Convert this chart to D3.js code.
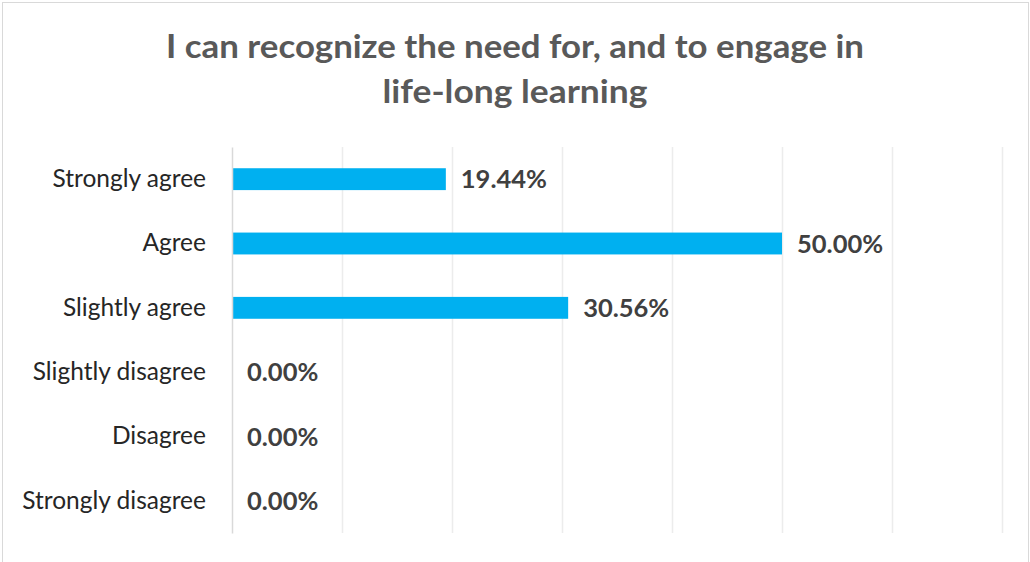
<!DOCTYPE html>
<html>
<head>
<meta charset="utf-8">
<script src="https://cdn.jsdelivr.net/npm/d3@7"></script>
<style>
  body { margin: 0; background: #fff; }
  svg { display: block; font-family: Lato, "Open Sans", sans-serif; }
</style>
</head>
<body>
<div id="chart"></div>
<script>
const titleLines = ['I can recognize the need for, and to engage in', 'life-long learning'];
const categories = ['Strongly agree', 'Agree', 'Slightly agree', 'Slightly disagree', 'Disagree', 'Strongly disagree'];
const percents = [19.44, 50.00, 30.56, 0.00, 0.00, 0.00];
const xTicks = [0, 10, 20, 30, 40, 50, 60, 70];

const width = 1030, height = 562;
const margin = {top: 147, right: 28, bottom: 29, left: 232};

const svg = d3.select('#chart').append('svg')
    .attr('width', width)
    .attr('height', height);

// chart frame
svg.append('rect')
    .attr('x', 2.5).attr('y', 2.5)
    .attr('width', 1026).attr('height', 580)
    .attr('fill', '#fff')
    .attr('stroke', '#d9d9d9');

// title
const titleWidths = [698, 265];
svg.append('g').selectAll('text')
    .data(titleLines)
    .join('text')
    .attr('x', width / 2)
    .attr('y', (d, i) => 58 + i * 45)
    .attr('text-anchor', 'middle')
    .attr('font-size', 33)
    .attr('font-weight', 'bold')
    .attr('fill', '#595959')
    .attr('textLength', (d, i) => titleWidths[i])
    .attr('lengthAdjust', 'spacingAndGlyphs')
    .text(d => d);

const x = d3.scaleLinear()
    .domain([0, 70])
    .range([margin.left, width - margin.right]);

const y = d3.scaleBand()
    .domain(categories)
    .range([margin.top, height - margin.bottom])
    .paddingInner(0.66)
    .paddingOuter(0.33);

// gridlines
svg.append('g')
    .attr('transform', `translate(0,${height - margin.bottom})`)
    .call(d3.axisBottom(x).tickValues(xTicks.slice(1)).tickSize(-(height - margin.top - margin.bottom)).tickFormat(''))
    .call(g => g.select('.domain').remove())
    .call(g => g.selectAll('.tick line').attr('stroke', '#ececec').attr('stroke-width', 1.5));

// bars
svg.append('g').selectAll('rect')
    .data(percents)
    .join('rect')
    .attr('x', x(0))
    .attr('y', (d, i) => y(categories[i]))
    .attr('width', d => x(d) - x(0))
    .attr('height', y.bandwidth())
    .attr('fill', '#00b0f0');

// category axis
svg.append('g')
    .attr('transform', `translate(${margin.left},0)`)
    .call(d3.axisLeft(y).tickSize(0).tickPadding(26))
    .call(g => g.select('.domain').attr('stroke', '#d9d9d9').attr('stroke-width', 1.5))
    .call(g => g.selectAll('.tick text')
        .attr('font-family', 'Lato, sans-serif')
        .attr('font-size', 24.5)
        .attr('fill', '#262626'));

// value labels
svg.append('g').selectAll('text')
    .data(percents)
    .join('text')
    .attr('x', d => x(d) + 15)
    .attr('y', (d, i) => y(categories[i]) + y.bandwidth() / 2)
    .attr('dy', '0.36em')
    .attr('font-size', 25.5)
    .attr('font-weight', 'bold')
    .attr('fill', '#404040')
    .text(d => d3.format('.2f')(d) + '%');
</script>
</body>
</html>
